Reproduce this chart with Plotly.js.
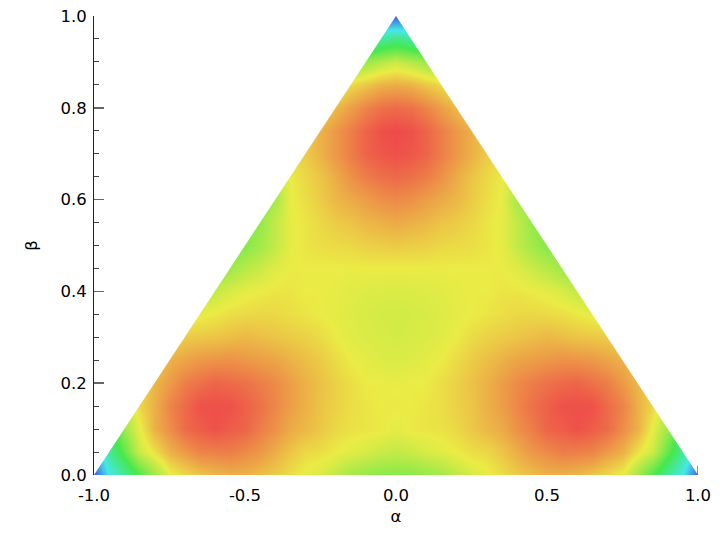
<!DOCTYPE html>
<html>
<head>
<meta charset="utf-8">
<script src="https://cdn.plot.ly/plotly-3.0.1.min.js"></script>
<style>
  body { margin: 0; background: white; }
  #chart { width: 720px; height: 540px; }
</style>
</head>
<body>
<div id="chart"></div>
<script>
// grid of the colour field (0 = blue ... 100 = red)
const alphaGrid = [-1, -0.95, -0.9, -0.85, -0.8, -0.75, -0.7, -0.65, -0.6, -0.55, -0.5, -0.45, -0.4, -0.35, -0.3, -0.25, -0.2, -0.15, -0.1, -0.05, 0,
  0.05, 0.1, 0.15, 0.2, 0.25, 0.3, 0.35, 0.4, 0.45, 0.5, 0.55, 0.6, 0.65, 0.7, 0.75, 0.8, 0.85, 0.9, 0.95, 1];
const betaGrid = [0, 0.05, 0.1, 0.15, 0.2, 0.25, 0.3, 0.35, 0.4, 0.45, 0.5, 0.55, 0.6, 0.65, 0.7, 0.75, 0.8, 0.85, 0.9, 0.95, 1];

const field = [
  [0,25,38,51,63,74,78,81,83,84,84,82,80,77,74,72,68,64,62,60.5,60,60.5,62,64,68,72,74,77,80,82,84,84,83,81,78,74,63,51,38,25,0],
  [13,38,54,70,76.5,84,87.5,91,91.5,92,90,88,84.5,81,78,77,75,73.5,72,70,69,70,72,73.5,75,77,78,81,84.5,88,90,92,91.5,91,87.5,84,76.5,70,54,38,13],
  [47,47,63,74,84,89.5,95,97,99,97,96,92,89,85,83,80.5,78,76.5,76,75.5,74,75.5,76,76.5,78,80.5,83,85,89,92,96,97,99,97,95,89.5,84,74,63,47,47],
  [67,67,67,78,84,91,95,99,99,99,96.5,94,90.5,87,84,81,79,77,76,75,75.5,75,76,77,79,81,84,87,90.5,94,96.5,99,99,99,95,91,84,78,67,67,67],
  [77,77,77,77,83,87.5,92,94,96,95,94,92,90,87,84,81.5,79,77,75,75,74.5,75,75,77,79,81.5,84,87,90,92,94,95,96,94,92,87.5,83,77,77,77,77],
  [80,80,80,80,80,84,86,88,88.5,89,88,87,86,84,82,80,77.5,75,74,73,72.5,73,74,75,77.5,80,82,84,86,87,88,89,88.5,88,86,84,80,80,80,80,80],
  [78,78,78,78,78,78,80,80.5,81,82,83,82,81,80,79,77.5,75,73.5,72.5,72,71.5,72,72.5,73.5,75,77.5,79,80,81,82,83,82,81,80.5,80,78,78,78,78,78,78],
  [73.5,73.5,73.5,73.5,73.5,73.5,73.5,74,75.5,77,77.5,78,78,77,76,75,74,73,72,71.5,71,71.5,72,73,74,75,76,77,78,78,77.5,77,75.5,74,73.5,73.5,73.5,73.5,73.5,73.5,73.5],
  [69,69,69,69,69,69,69,69,69,72,74,75,76,76,75,75,74.5,73.5,73,72.7,72.5,72.7,73,73.5,74.5,75,75,76,76,75,74,72,69,69,69,69,69,69,69,69,69],
  [61.5,61.5,61.5,61.5,61.5,61.5,61.5,61.5,61.5,63.5,67,70,73,75,75,75,75,75,75,75,75,75,75,75,75,75,75,75,73,70,67,63.5,61.5,61.5,61.5,61.5,61.5,61.5,61.5,61.5,61.5],
  [57.5,57.5,57.5,57.5,57.5,57.5,57.5,57.5,57.5,57.5,60,64,69,74,76,77,77.5,78,79,79.5,80,79.5,79,78,77.5,77,76,74,69,64,60,57.5,57.5,57.5,57.5,57.5,57.5,57.5,57.5,57.5,57.5],
  [59,59,59,59,59,59,59,59,59,59,59,62,69,74,76,78,80,81,83,84,85,84,83,81,80,78,76,74,69,62,59,59,59,59,59,59,59,59,59,59,59],
  [62,62,62,62,62,62,62,62,62,62,62,62,65,74.5,77,80,83,85,87,89,90,89,87,85,83,80,77,74.5,65,62,62,62,62,62,62,62,62,62,62,62,62],
  [68,68,68,68,68,68,68,68,68,68,68,68,68,75,78,81,85,89,92,94,95,94,92,89,85,81,78,75,68,68,68,68,68,68,68,68,68,68,68,68,68],
  [77,77,77,77,77,77,77,77,77,77,77,77,77,77,80,84,88,92,96,98,99,98,96,92,88,84,80,77,77,77,77,77,77,77,77,77,77,77,77,77,77],
  [80,80,80,80,80,80,80,80,80,80,80,80,80,80,80,84,88,92,96,99,100,99,96,92,88,84,80,80,80,80,80,80,80,80,80,80,80,80,80,80,80],
  [79,79,79,79,79,79,79,79,79,79,79,79,79,79,79,79,83,87,91,94,95,94,91,87,83,79,79,79,79,79,79,79,79,79,79,79,79,79,79,79,79],
  [74,74,74,74,74,74,74,74,74,74,74,74,74,74,74,74,74,78,81,84,85,84,81,78,74,74,74,74,74,74,74,74,74,74,74,74,74,74,74,74,74],
  [60,60,60,60,60,60,60,60,60,60,60,60,60,60,60,60,60,60,63,67,70,67,63,60,60,60,60,60,60,60,60,60,60,60,60,60,60,60,60,60,60],
  [34,34,34,34,34,34,34,34,34,34,34,34,34,34,34,34,34,34,34,38,42,38,34,34,34,34,34,34,34,34,34,34,34,34,34,34,34,34,34,34,34],
  [0,0,0,0,0,0,0,0,0,0,0,0,0,0,0,0,0,0,0,0,0,0,0,0,0,0,0,0,0,0,0,0,0,0,0,0,0,0,0,0,0]
];

// white corners outside the triangle
const maskLeftX = [-1, 0, -1, -1];
const maskLeftY = [0, 1, 1, 0];
const maskRightX = [1, 0, 1, 1];
const maskRightY = [0, 1, 1, 0];

// the one x tick the field does not cover
const lastTickX = [1, 1];
const lastTickY = [0, 0.02];

const xTickVals = [-1, -0.5, 0, 0.5, 1];
const xTickText = ['-1.0', '-0.5', '0.0', '0.5', '1.0'];
const yTickVals = [0, 0.2, 0.4, 0.6, 0.8, 1];
const yTickText = ['0.0', '0.2', '0.4', '0.6', '0.8', '1.0'];

const rainbow = [
  [0, '#3f5fe0'],
  [0.25, '#45e8e8'],
  [0.5, '#45e84f'],
  [0.75, '#ebeb45'],
  [1, '#ee4a4a']
];

const font = { family: 'DejaVu Sans', size: 16.5, color: '#000' };

Plotly.newPlot('chart', [
  {
    type: 'heatmap',
    x: alphaGrid,
    y: betaGrid,
    z: field,
    zmin: 0,
    zmax: 100,
    zsmooth: 'best',
    colorscale: rainbow,
    showscale: false,
    hoverinfo: 'skip'
  },
  {
    x: maskLeftX, y: maskLeftY, mode: 'none', type: 'scatter',
    fill: 'toself', fillcolor: 'white', hoverinfo: 'skip', showlegend: false
  },
  {
    x: maskRightX, y: maskRightY, mode: 'none', type: 'scatter',
    fill: 'toself', fillcolor: 'white', hoverinfo: 'skip', showlegend: false
  },
  {
    x: lastTickX, y: lastTickY, mode: 'lines', type: 'scatter', cliponaxis: false,
    line: { color: '#222', width: 1 }, hoverinfo: 'skip', showlegend: false
  }
], {
  width: 720,
  height: 540,
  margin: { l: 94, r: 22, t: 16, b: 64.5 },
  paper_bgcolor: 'white',
  plot_bgcolor: 'white',
  showlegend: false,
  font: font,
  xaxis: {
    range: [-1, 1],
    tickmode: 'array',
    tickvals: xTickVals,
    ticktext: xTickText,
    ticks: 'inside',
    ticklen: 9,
    tickwidth: 1,
    tickcolor: '#222',
    showgrid: false,
    zeroline: false,
    showline: false,
    layer: 'below traces',
    ticklabelstandoff: 8,
    tickfont: font,
    title: { text: 'α', font: font, standoff: 6 }
  },
  yaxis: {
    range: [0, 1],
    tickmode: 'array',
    tickvals: yTickVals,
    ticktext: yTickText,
    ticks: 'inside',
    ticklen: 10,
    tickwidth: 1.5,
    tickcolor: '#666',
    minor: { tickmode: 'linear', tick0: 0, dtick: 0.05, ticks: 'inside', ticklen: 5, tickwidth: 1, tickcolor: '#444', showgrid: false },
    showgrid: false,
    zeroline: false,
    showline: true,
    linecolor: '#222',
    linewidth: 1,
    ticklabelstandoff: 3,
    tickfont: font,
    title: { text: 'β', font: font, standoff: 18 }
  }
}, { displayModeBar: false, staticPlot: true });
</script>
</body>
</html>
